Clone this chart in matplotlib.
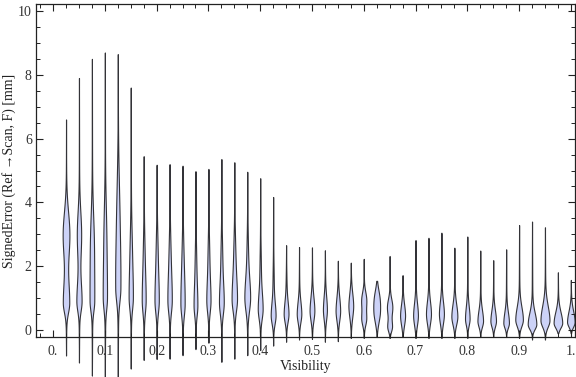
import matplotlib
matplotlib.use("Agg")
import matplotlib.pyplot as plt
import numpy as np

# violin centres (visibility bins)
positions = [0.025, 0.05, 0.075, 0.1, 0.125, 0.15, 0.175, 0.2, 0.225, 0.25,
             0.275, 0.3, 0.325, 0.35, 0.375, 0.4, 0.425, 0.45, 0.475, 0.5,
             0.525, 0.55, 0.575, 0.6, 0.625, 0.65, 0.675, 0.7, 0.725, 0.75,
             0.775, 0.8, 0.825, 0.85, 0.875, 0.9, 0.925, 0.95, 0.975, 1.0]

# max / min of each distribution (mm)
tops = [6.6, 7.9, 8.5, 8.7, 8.65, 7.6, 5.45, 5.18, 5.2, 5.15,
        4.98, 5.05, 5.36, 5.26, 4.96, 4.76, 4.17, 2.66, 2.6, 2.59,
        2.5, 2.17, 2.11, 2.23, 1.54, 2.32, 1.72, 2.82, 2.89, 3.05,
        2.58, 2.93, 2.49, 2.19, 2.53, 3.29, 3.4, 3.22, 1.81, 1.57]
bottoms = [-0.8, -1.02, -1.43, -1.5, -1.5, -1.21, -0.94, -0.91, -0.9, -0.79,
           -0.6, -0.4, -1.0, -0.9, -0.79, -0.63, -0.49, -0.37, -0.3, -0.28,
           -0.37, -0.35, -0.25, -0.25, -0.22, -0.25, -0.22, -0.25, -0.25, -0.25,
           -0.25, -0.25, -0.22, -0.22, -0.22, -0.25, -0.3, -0.3, -0.1, -0.1]

# main density bump: mode, half width (px), spread below / above
mode1 = [0.85, 0.9, 0.9, 1.0, 1.3, 1.0, 0.9, 0.9, 0.9, 0.8,
         0.75, 0.9, 0.85, 0.95, 1.0, 0.65, 0.45, 0.5, 0.5, 0.6,
         0.63, 0.6, 0.75, 0.35, 0.5, 0.1, 0.45, 0.45, 0.5, 0.5,
         0.42, 0.35, 0.28, 0.28, 0.22, 0.32, 0.18, 0.3, 0.22, 0.25]
width1 = [2.8, 2.2, 1.8, 1.6, 1.9, 1.6, 1.4, 1.6, 1.6, 1.6,
          1.4, 1.6, 1.9, 2.2, 2.4, 2.0, 2.0, 2.0, 1.9, 2.0,
          1.6, 1.9, 2.0, 2.0, 2.2, 1.9, 2.1, 2.0, 2.1, 2.1,
          2.6, 1.9, 2.4, 2.4, 2.4, 3.4, 3.9, 4.1, 3.9, 3.4]
spread_lo = [0.3, 0.3, 0.3, 0.35, 0.4, 0.35, 0.35, 0.35, 0.35, 0.35,
             0.3, 0.35, 0.35, 0.35, 0.4, 0.3, 0.25, 0.25, 0.25, 0.3,
             0.3, 0.3, 0.35, 0.2, 0.3, 0.15, 0.3, 0.3, 0.3, 0.3,
             0.25, 0.2, 0.18, 0.18, 0.15, 0.2, 0.15, 0.2, 0.15, 0.15]
spread_hi = [0.7, 0.6, 1.0, 1.0, 1.2, 0.8, 0.7, 0.7, 0.7, 0.8,
             0.6, 0.6, 0.6, 0.65, 0.6, 0.5, 0.4, 0.38, 0.38, 0.42,
             0.42, 0.42, 0.4, 0.25, 0.3, 0.2, 0.35, 0.38, 0.38, 0.38,
             0.38, 0.38, 0.34, 0.34, 0.34, 0.4, 0.36, 0.45, 0.34, 0.34]

# second bump (0 width = none)
mode2 = [3.0, 3.0, 2.8, 3.0, 3.5, 2.5, 2.2, 2.3, 2.2, 2.2,
         2.0, 2.2, 2.2, 2.3, 2.3, 1.9, 1.5, 1.4, 0, 0,
         0, 0, 0, 0.95, 1.0, 0.72, 0, 0, 0, 0,
         0, 0, 0, 0, 0, 0, 0, 0, 0, 0]
width2 = [3.1, 1.9, 1.4, 1.0, 1.2, 0.7, 0.6, 0.7, 0.7, 0.6,
          0.5, 0.6, 0.6, 0.7, 0.5, 0.4, 0.3, 0.2, 0, 0,
          0, 0, 0, 2.2, 2.2, 2.4, 0, 0, 0, 0,
          0, 0, 0, 0, 0, 0, 0, 0, 0, 0]
spread2 = [0.7, 0.7, 0.9, 1.0, 1.3, 0.8, 0.8, 0.8, 0.8, 0.8,
           0.7, 0.7, 0.7, 0.7, 0.7, 0.6, 0.5, 0.4, 0.4, 0.4,
           0.4, 0.4, 0.4, 0.25, 0.3, 0.25, 0.4, 0.4, 0.4, 0.4,
           0.4, 0.4, 0.4, 0.4, 0.4, 0.4, 0.4, 0.4, 0.4, 0.4]

xticks = [0, 0.1, 0.2, 0.3, 0.4, 0.5, 0.6, 0.7, 0.8, 0.9, 1.0]
xticklabels = ["0.", "0.1", "0.2", "0.3", "0.4", "0.5", "0.6", "0.7", "0.8", "0.9", "1."]
yticks = [0, 2, 4, 6, 8, 10]

PX = 518.0  # pixels per unit visibility
TAIL = 0.4  # px, half width of the thin tails

# build violin stats from the shape parameters
stats = []
widths = []
for i in range(len(positions)):
    lo, hi, m = bottoms[i], tops[i], mode1[i]
    y = np.linspace(lo, hi, 400)
    sd = np.where(y < m, spread_lo[i], spread_hi[i])
    h = width1[i] * np.exp(-0.5 * ((y - m) / sd) ** 2)
    if width2[i] > 0:
        h += width2[i] * np.exp(-0.5 * ((y - mode2[i]) / spread2[i]) ** 2)
    tail = np.where(y < m, (y - lo) / (m - lo), (hi - y) / (hi - m))
    h += TAIL * np.clip(tail, 0, 1)
    stats.append({"coords": y, "vals": h, "mean": m, "median": m,
                  "min": lo, "max": hi})
    widths.append(2 * h.max() / PX)

fig = plt.figure(figsize=(5.76, 3.77), dpi=100)
ax = fig.add_axes([36 / 576, 1 - 337 / 377, 539 / 576, 333 / 377])

parts = ax.violin(stats, positions=positions, widths=widths,
                  showmeans=False, showextrema=False, showmedians=False)
for b in parts["bodies"]:
    b.set_facecolor((0.80, 0.825, 0.97))
    b.set_edgecolor((0.2, 0.2, 0.22))
    b.set_alpha(None)
    b.set_linewidth(0.8)
    b.set_clip_on(False)

ax.set_xlim(-0.033, 1.008)
ax.set_ylim(-0.22, 10.22)

serif = ["Liberation Serif", "DejaVu Serif"]
ax.set_xticks(xticks)
ax.set_xticklabels(xticklabels, family=serif, fontsize=10, color="#333333")
ax.set_yticks(yticks)
ax.set_yticklabels([str(t) for t in yticks], family=serif, fontsize=10, color="#333333")
ax.set_xticks(np.arange(-0.025, 1.01, 0.025), minor=True)
ax.set_yticks(np.arange(0, 10.1, 0.5), minor=True)
ax.tick_params(which="both", direction="in", top=True, right=True, color="#222222")
ax.tick_params(which="major", length=5, width=0.8)
ax.tick_params(which="minor", length=3, width=0.7)
ax.tick_params(axis="x", pad=6)
ax.tick_params(axis="y", pad=3)
for s in ax.spines.values():
    s.set_color("#222222")
    s.set_linewidth(0.9)
    s.set_zorder(5)

ax.set_xlabel("Visibility", family=serif, fontsize=10, color="#222222")
ax.set_ylabel("SignedError (Ref \u2192Scan, F) [mm]", family=serif, fontsize=10, color="#222222")
ax.xaxis.set_label_coords(0.5, -0.07)
ax.yaxis.set_label_coords(-0.038, 0.5)

plt.savefig("out.png", dpi=100)
